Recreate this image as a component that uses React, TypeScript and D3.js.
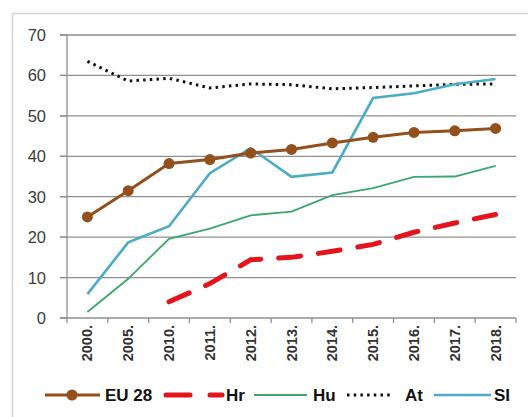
import React from "react";
import * as d3 from "d3";

const years = ["2000.", "2005.", "2010.", "2011.", "2012.", "2013.", "2014.", "2015.", "2016.", "2017.", "2018."];
const eu28 = [25, 31.5, 38.2, 39.2, 40.8, 41.7, 43.3, 44.7, 45.9, 46.3, 46.9];
const hr: (number | null)[] = [null, null, 4, 8.5, 14.4, 15, 16.5, 18.2, 21.2, 23.5, 25.6];
const hu = [1.5, 9.7, 19.6, 22.1, 25.4, 26.3, 30.4, 32.1, 34.9, 35, 37.6];
const at = [63.5, 58.6, 59.3, 56.9, 57.9, 57.7, 56.7, 57, 57.4, 57.8, 57.9];
const si = [5.9, 18.7, 22.7, 35.8, 42, 34.9, 36, 54.4, 55.6, 57.8, 59.1];
const yTicks = [0, 10, 20, 30, 40, 50, 60, 70];

const W = 528, H = 417;
const x0 = 67, x1 = 516, yTop = 35, yBot = 318;

export default function App() {
  const xb = d3.scaleBand<string>().domain(years).range([x0, x1]).padding(0);
  const y = d3.scaleLinear().domain([0, 70]).range([yBot, yTop]);
  const cx = (i: number) => (xb(years[i]) as number) + xb.bandwidth() / 2;
  const line = d3
    .line<number | null>()
    .defined((d) => d !== null)
    .x((_, i) => cx(i))
    .y((d) => y(d as number));

  const font = "'Liberation Sans', Arial, sans-serif";
  const brown = "#94501c";
  const red = "#e3141c";
  const green = "#3aa86c";
  const blue = "#4bacc6";

  const boundaries = years.map((yr) => xb(yr) as number).concat([x1]);

  return (
    <svg width={W} height={H} style={{ position: "absolute", left: 0, top: 0, background: "#fff" }} fontFamily={font}>
      <rect x={12.5} y={13.5} width={540} height={430} fill="#fff" stroke="#d4d4d4" strokeWidth={1.5} />
      {yTicks.map((t) => (
        <g key={t}>
          {t > 0 && <line x1={60} x2={x1} y1={y(t)} y2={y(t)} stroke="#8f8f8f" strokeWidth={1.3} />}
          <line x1={60} x2={x0} y1={y(t)} y2={y(t)} stroke="#8f8f8f" strokeWidth={1.3} />
          <text x={46} y={y(t)} textAnchor="end" dominantBaseline="central" fontSize={16.5} fill="#3c3c3c">
            {t}
          </text>
        </g>
      ))}
      <line x1={x0} x2={x0} y1={yTop} y2={yBot} stroke="#8f8f8f" strokeWidth={1.3} />
      <line x1={60} x2={x1} y1={yBot} y2={yBot} stroke="#8f8f8f" strokeWidth={1.3} />
      {boundaries.map((b, i) => (
        <line key={i} x1={b} x2={b} y1={yBot} y2={yBot + 5} stroke="#8f8f8f" strokeWidth={1.3} />
      ))}
      {years.map((yr, i) => (
        <text
          key={yr}
          transform={`translate(${cx(i)},${yBot + 7}) rotate(-90)`}
          textAnchor="end"
          dominantBaseline="central"
          fontSize={14.5}
          fontWeight="bold"
          fill="#333"
        >
          {yr}
        </text>
      ))}

      <path d={line(hu) || ""} fill="none" stroke={green} strokeWidth={1.8} />
      <path d={line(at) || ""} fill="none" stroke="#111" strokeWidth={3} strokeDasharray="2.5,4.2" />
      <path d={line(si) || ""} fill="none" stroke={blue} strokeWidth={2.6} />
      <path d={line(hr) || ""} fill="none" stroke={red} strokeWidth={5} strokeDasharray="22,18" strokeLinecap="round" />
      <path d={line(eu28) || ""} fill="none" stroke={brown} strokeWidth={3} />
      {eu28.map((v, i) => (
        <circle key={i} cx={cx(i)} cy={y(v)} r={5.5} fill={brown} />
      ))}

      <g fontSize={17} fontWeight="bold" fill="#111">
        <line x1={45} x2={100} y1={395} y2={395} stroke={brown} strokeWidth={3} />
        <circle cx={72} cy={395} r={5.5} fill={brown} />
        <text x={105} y={395} dominantBaseline="central">EU 28</text>
        <line x1={166} x2={190} y1={395} y2={395} stroke={red} strokeWidth={5} strokeLinecap="round" />
        <line x1={210} x2={222} y1={395} y2={395} stroke={red} strokeWidth={5} strokeLinecap="round" />
        <text x={226} y={395} dominantBaseline="central">Hr</text>
        <line x1={254} x2={307} y1={395} y2={395} stroke={green} strokeWidth={1.8} />
        <text x={313} y={395} dominantBaseline="central">Hu</text>
        <line x1={347} x2={393} y1={395} y2={395} stroke="#111" strokeWidth={3} strokeDasharray="2.5,4.2" />
        <text x={405} y={395} dominantBaseline="central">At</text>
        <line x1={434} x2={491} y1={395} y2={395} stroke={blue} strokeWidth={2.6} />
        <text x={494} y={395} dominantBaseline="central">SI</text>
      </g>
    </svg>
  );
}
